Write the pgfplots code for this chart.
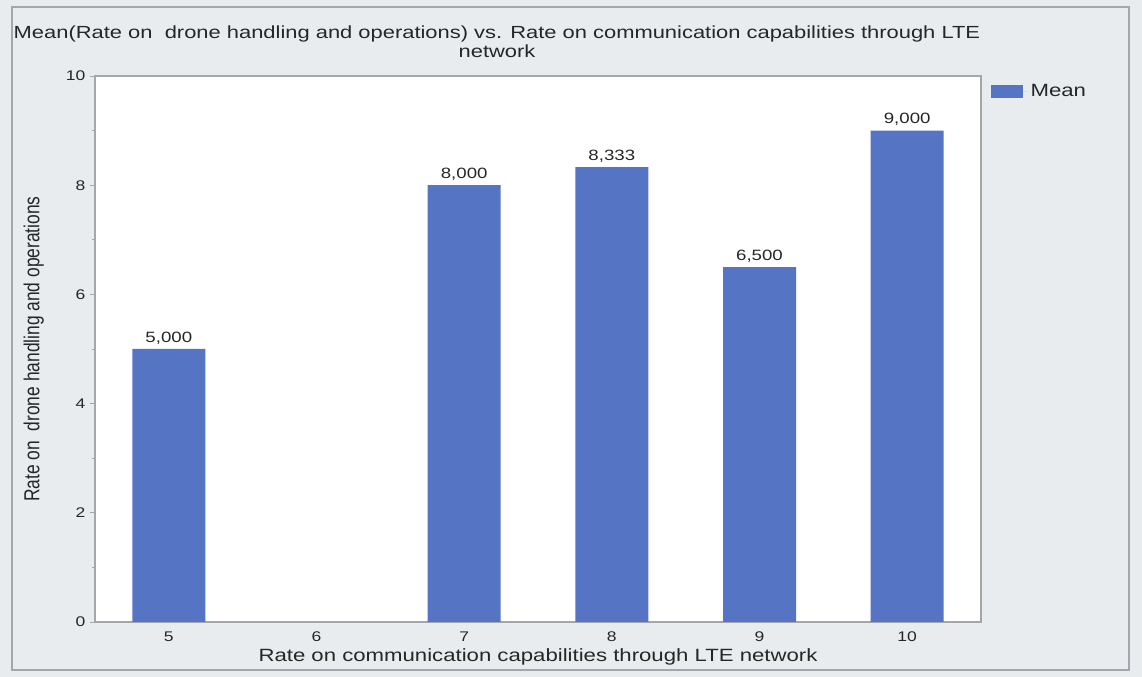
\documentclass[border=0pt]{standalone}
\usepackage{pgfplots}
\pgfplotsset{compat=1.18}
\usepackage{fontspec}
\setmainfont{Liberation Sans}[FakeStretch=1.25]
\newfontfamily\ylabfont{Liberation Sans}[FakeStretch=0.8]
\definecolor{barblue}{HTML}{5575C4}
\definecolor{bgray}{HTML}{E9ECEE}
\definecolor{fgray}{HTML}{A3A7AB}
\definecolor{txt}{HTML}{262626}
\begin{document}
\begin{tikzpicture}[x=0.75pt,y=0.75pt]
\fill[bgray] (0,0) rectangle (1142,677);
\draw[fgray, line width=1.5pt] (12,670) rectangle (1129,7);
\node[font=\fontsize{13.15}{14.25}\selectfont, align=center, text=txt] at (497,635.5)
  {Mean(Rate on\ \ drone handling and operations) vs. Rate on communication capabilities through LTE\\network};
\begin{axis}[
  at={(71.25pt,41.25pt)}, anchor=south west,
  scale only axis, width=664.5pt, height=409.5pt,
  ybar, bar width=54.75pt,
  xmin=4.5, xmax=10.5, ymin=0, ymax=10,
  xtick={5,6,7,8,9,10}, ytick={0,2,4,6,8,10},
  minor ytick={1,3,5,7,9},
  xtick pos=left, ytick pos=left,
  tick align=outside,
  major tick length=3.75pt, minor tick length=2.5pt,
  x tick style={draw=none},
  y tick style={fgray, line width=0.6pt},
  axis line style={fgray, line width=0.8pt},
  axis background/.style={fill=white},
  /pgf/number format/assume math mode=true,
  tick label style={font=\fontsize{10.5}{12}\selectfont, text=txt},
  xlabel={Rate on communication capabilities through LTE network},
  ylabel={Rate on\ \ drone handling and operations},
  xlabel style={font=\fontsize{13.3}{14}\selectfont, text=txt, at={(axis description cs:0.5,-0.064)}, anchor=center},
  ylabel style={font=\ylabfont\fontsize{16.3}{17}\selectfont, text=txt, at={(axis description cs:-0.069,0.5)}, anchor=center},
  nodes near coords={\pgfmathprintnumber[fixed,fixed zerofill,precision=3,use comma]{\pgfplotspointmeta}},
  every node near coord/.append style={font=\fontsize{11.2}{12}\selectfont, text=txt},
  legend style={at={(rel axis cs:1,1)}, anchor=north west, xshift=4pt, yshift=-2pt,
    draw=none, fill=none, font=\fontsize{13.3}{14}\selectfont, text=txt},
  legend image code/.code={\fill[barblue] (0pt,-4.875pt) rectangle (24pt,4.875pt); \path (0pt,0pt) -- (28pt,0pt);},
]
\addplot[fill=barblue, draw=none] coordinates {(5,5.000) (7,8.000) (8,8.333) (9,6.500) (10,9.000)};
\addlegendentry{Mean}
\end{axis}
\end{tikzpicture}
\end{document}
